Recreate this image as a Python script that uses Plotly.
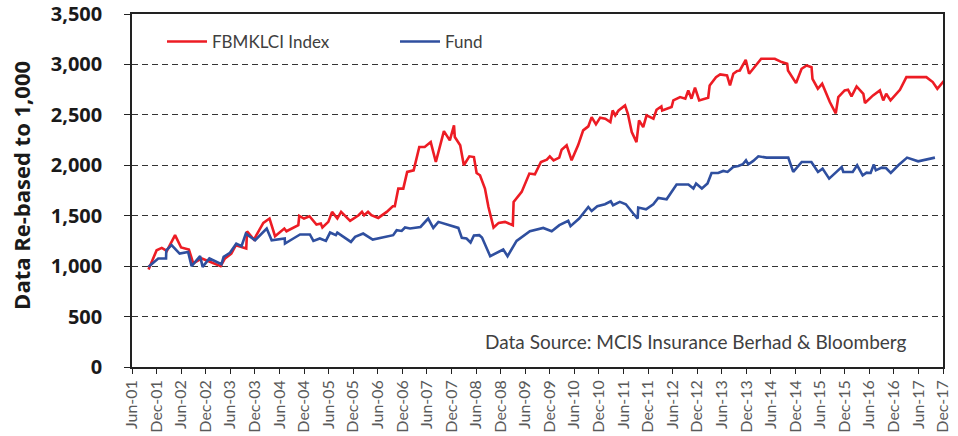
import plotly.graph_objects as go

# ---------------- data ----------------
index_dates = [
    "2001-10-02", "2001-12-01", "2002-01-08", "2002-02-15", "2002-04-17", "2002-06-01",
    "2002-07-29", "2002-08-30", "2002-11-02", "2003-01-01", "2003-03-22", "2003-04-23",
    "2003-06-09", "2003-07-13", "2003-08-24", "2003-09-28", "2003-10-04", "2003-11-24",
    "2004-02-02", "2004-03-19", "2004-04-29", "2004-07-07", "2004-07-23", "2004-10-19",
    "2004-10-26", "2004-11-30", "2005-01-10", "2005-03-03", "2005-04-04", "2005-04-16",
    "2005-05-30", "2005-06-27", "2005-08-05", "2005-09-02", "2005-11-08", "2006-01-10",
    "2006-02-04", "2006-02-20", "2006-03-21", "2006-04-15", "2006-06-05", "2006-08-07",
    "2006-09-21", "2006-10-06", "2006-11-01", "2006-12-08", "2007-01-06", "2007-02-23",
    "2007-04-06", "2007-05-16", "2007-06-30", "2007-08-07", "2007-10-06", "2007-11-19",
    "2007-12-20", "2007-12-26", "2008-02-04", "2008-03-02", "2008-04-12", "2008-05-16",
    "2008-06-05", "2008-06-30", "2008-08-06", "2008-09-01", "2008-10-09", "2008-11-16",
    "2009-01-02", "2009-03-01", "2009-03-07", "2009-05-06", "2009-07-02", "2009-08-12",
    "2009-09-26", "2009-11-09", "2009-12-01", "2009-12-29", "2010-02-09", "2010-02-27",
    "2010-04-05", "2010-05-12", "2010-06-29", "2010-08-06", "2010-09-13", "2010-10-08",
    "2010-11-09", "2010-12-10", "2011-01-17", "2011-02-24", "2011-03-13", "2011-04-01",
    "2011-04-26", "2011-06-13", "2011-07-04", "2011-08-02", "2011-09-06", "2011-09-25",
    "2011-10-26", "2011-11-20", "2012-01-10", "2012-02-02", "2012-03-09", "2012-03-15",
    "2012-05-24", "2012-06-06", "2012-07-26", "2012-09-03", "2012-09-25", "2012-10-19",
    "2012-11-14", "2012-12-15", "2013-02-20", "2013-03-03", "2013-04-19", "2013-05-20",
    "2013-07-10", "2013-08-01", "2013-08-26", "2013-09-21", "2013-10-13", "2013-11-26",
    "2013-12-21", "2014-03-21", "2014-06-30", "2014-08-20", "2014-09-30", "2014-10-06",
    "2014-12-05", "2015-01-15", "2015-02-22", "2015-03-30", "2015-04-06", "2015-05-16",
    "2015-06-17", "2015-08-13", "2015-09-26", "2015-10-15", "2015-12-01", "2015-12-26",
    "2016-01-21", "2016-02-28", "2016-04-18", "2016-04-30", "2016-06-29", "2016-08-19",
    "2016-09-13", "2016-10-05", "2016-11-06", "2017-01-15", "2017-03-04", "2017-07-30",
    "2017-09-16", "2017-10-20", "2017-12-28",
]
index_values = [
    967, 1158, 1181, 1151, 1307, 1185,
    1165, 1027, 1076, 1043, 1000, 1076,
    1125, 1208, 1191, 1175, 1346, 1264,
    1429, 1472, 1297, 1373, 1346, 1406,
    1498, 1472, 1495, 1413, 1422, 1383,
    1439, 1538, 1472, 1538, 1449, 1505,
    1538, 1505, 1538, 1505, 1478, 1538,
    1594, 1594, 1769, 1769, 1934, 1950,
    2181, 2181, 2230, 2033, 2339, 2247,
    2396, 2280, 2198, 2000, 2089, 2082,
    1924, 1901, 1769, 1587, 1383, 1429,
    1439, 1406, 1637, 1736, 1918, 1911,
    2033, 2056, 2089, 2049, 2076, 2155,
    2198, 2049, 2198, 2346, 2386, 2478,
    2406, 2472, 2462, 2429, 2544, 2495,
    2544, 2594, 2511, 2330, 2230, 2445,
    2379, 2495, 2462, 2551, 2584, 2544,
    2577, 2643, 2676, 2660, 2742, 2660,
    2769, 2643, 2670, 2792, 2874, 2901,
    2891, 2792, 2908, 2934, 2940, 3046,
    2908, 3056, 3056, 3023, 3007, 2940,
    2815, 2957, 2990, 2973, 2858, 2759,
    2809, 2627, 2515, 2676, 2742, 2749,
    2683, 2782, 2709, 2617, 2693, 2742,
    2643, 2709, 2643, 2749, 2874, 2874,
    2825, 2759, 2868,
]

fund_dates = [
    "2001-10-02", "2001-12-13", "2002-02-09", "2002-02-11", "2002-03-22", "2002-05-21",
    "2002-07-23", "2002-08-18", "2002-10-20", "2002-11-08", "2002-12-28", "2003-03-28",
    "2003-04-13", "2003-05-30", "2003-07-16", "2003-08-24", "2003-09-25", "2003-12-03",
    "2004-02-27", "2004-04-04", "2004-07-10", "2004-07-12", "2004-09-12", "2004-11-01",
    "2005-01-13", "2005-02-08", "2005-03-28", "2005-05-12", "2005-06-12", "2005-07-25",
    "2005-08-05", "2005-11-14", "2005-12-15", "2006-02-13", "2006-04-25", "2006-06-30",
    "2006-09-24", "2006-10-20", "2006-11-26", "2006-12-21", "2007-01-27", "2007-04-15",
    "2007-06-11", "2007-07-19", "2007-08-26", "2008-01-21", "2008-02-16", "2008-03-22",
    "2008-04-21", "2008-05-16", "2008-06-25", "2008-07-15", "2008-09-14", "2008-12-20",
    "2009-01-21", "2009-03-29", "2009-05-28", "2009-07-06", "2009-10-13", "2009-12-15",
    "2010-02-10", "2010-04-17", "2010-05-04", "2010-07-07", "2010-09-13", "2010-10-08",
    "2010-11-19", "2011-01-15", "2011-02-27", "2011-03-16", "2011-05-05", "2011-06-19",
    "2011-08-13", "2011-09-15", "2011-09-19", "2011-11-16", "2012-01-09", "2012-02-15",
    "2012-04-17", "2012-06-30", "2012-09-26", "2012-11-02", "2012-11-22", "2013-01-04",
    "2013-02-15", "2013-03-17", "2013-05-05", "2013-06-12", "2013-07-14", "2013-08-25",
    "2013-10-02", "2013-11-04", "2013-11-28", "2013-12-15", "2014-01-21", "2014-02-28",
    "2014-04-30", "2014-10-08", "2014-11-14", "2015-01-16", "2015-03-29", "2015-05-17",
    "2015-06-20", "2015-08-08", "2015-11-09", "2015-11-21", "2016-01-30", "2016-03-03",
    "2016-04-13", "2016-05-12", "2016-06-11", "2016-07-05", "2016-07-20", "2016-09-02",
    "2016-10-03", "2016-11-08", "2017-01-03", "2017-03-09", "2017-05-30", "2017-10-02",
]
fund_values = [
    993, 1076, 1076, 1158, 1208, 1125,
    1141, 1000, 1099, 993, 1076, 1020,
    1092, 1132, 1224, 1198, 1323, 1257,
    1373, 1257, 1274, 1224, 1274, 1314,
    1314, 1250, 1274, 1250, 1333, 1307,
    1333, 1240, 1290, 1323, 1264, 1284,
    1307, 1356, 1349, 1383, 1373, 1389,
    1472, 1379, 1439, 1379, 1280, 1274,
    1234, 1304, 1307, 1284, 1099, 1165,
    1099, 1250, 1307, 1346, 1379, 1346,
    1406, 1449, 1396, 1472, 1587, 1547,
    1594, 1614, 1643, 1604, 1637, 1614,
    1522, 1472, 1581, 1564, 1614, 1676,
    1663, 1809, 1809, 1769, 1819, 1769,
    1819, 1924, 1924, 1944, 1934, 1983,
    1993, 2010, 2049, 2010, 2043, 2089,
    2076, 2076, 1934, 2033, 2033, 1934,
    1967, 1868, 1983, 1934, 1934, 2000,
    1901, 1927, 1924, 2007, 1950, 1977,
    1973, 1924, 2000, 2076, 2039, 2076,
]

series_names = ["FBMKLCI Index", "Fund"]

tick_dates = [f"{y}-{m:02d}-01" for y in range(2001, 2018) for m in (6, 12)]
tick_labels = [f"{'Jun' if m == 6 else 'Dec'}-{y % 100:02d}" for y in range(2001, 2018) for m in (6, 12)]

y_ticks = [0, 500, 1000, 1500, 2000, 2500, 3000, 3500]

# ---------------- figure ----------------
RED = "#ed1c24"
BLUE = "#2f4f9f"
FONT = "Lato, 'Open Sans', sans-serif"
BOLD_FONT = "'Open Sans', Lato, sans-serif"

fig = go.Figure()
fig.add_trace(go.Scatter(x=index_dates, y=index_values, mode="lines", name=series_names[0],
                         line=dict(color=RED, width=2.6)))
fig.add_trace(go.Scatter(x=fund_dates, y=fund_values, mode="lines", name=series_names[1],
                         line=dict(color=BLUE, width=2.6)))

fig.update_layout(
    width=958, height=436,
    margin=dict(l=132, r=15, t=14, b=69, autoexpand=False),
    plot_bgcolor="white", paper_bgcolor="white",
    font=dict(family=FONT, color="#404040"),
    legend=dict(orientation="h", x=0.037, y=0.921, xanchor="left", yanchor="middle",
                font=dict(size=17, color="#404040"), bgcolor="rgba(0,0,0,0)",
                entrywidth=178, entrywidthmode="pixels", itemwidth=40),
    xaxis=dict(
        type="date", automargin=False,
        range=["2001-06-01", "2017-12-01"],
        tickmode="array", tickvals=tick_dates, ticktext=tick_labels,
        tickangle=-90, tickfont=dict(size=16, color="#5a5a5a", family=FONT),
        ticks="outside", ticklen=5, tickcolor="#222222", ticklabeloverflow="allow",
        showline=True, linecolor="#222222", linewidth=1.5, mirror=True,
        showgrid=False, zeroline=False,
    ),
    yaxis=dict(
        automargin=False,
        range=[0, 3500],
        tickmode="array", tickvals=y_ticks, tickformat=",",
        tickfont=dict(size=20, color="#1a1a1a", family=BOLD_FONT, weight="bold"),
        ticks="outside", ticklen=6, tickcolor="#222222", ticklabelstandoff=18,
        ticklabeloverflow="allow",
        showline=True, linecolor="#222222", linewidth=1.5, mirror=True,
        showgrid=True, gridcolor="#333333", gridwidth=1, griddash="6px,4px",
        zeroline=False,
    ),
    annotations=[
        dict(text="<b>Data Re-based to 1,000</b>", textangle=-90,
             xref="paper", yref="paper", x=-0.136, y=0.515,
             xanchor="center", yanchor="middle", showarrow=False,
             font=dict(size=22, color="#1a1a1a", family=BOLD_FONT)),
        dict(text="Data Source: MCIS Insurance Berhad &amp; Bloomberg",
             xref="paper", yref="paper", x=0.958, y=0.071,
             xanchor="right", yanchor="middle", showarrow=False,
             font=dict(size=19, color="#404040", family=FONT)),
    ],
)

# remove the browser's default 8px page margin so the figure fills the window exactly
fig.write_html("out.html", config={"displayModeBar": False},
               post_script="document.body.style.margin='0px';")
